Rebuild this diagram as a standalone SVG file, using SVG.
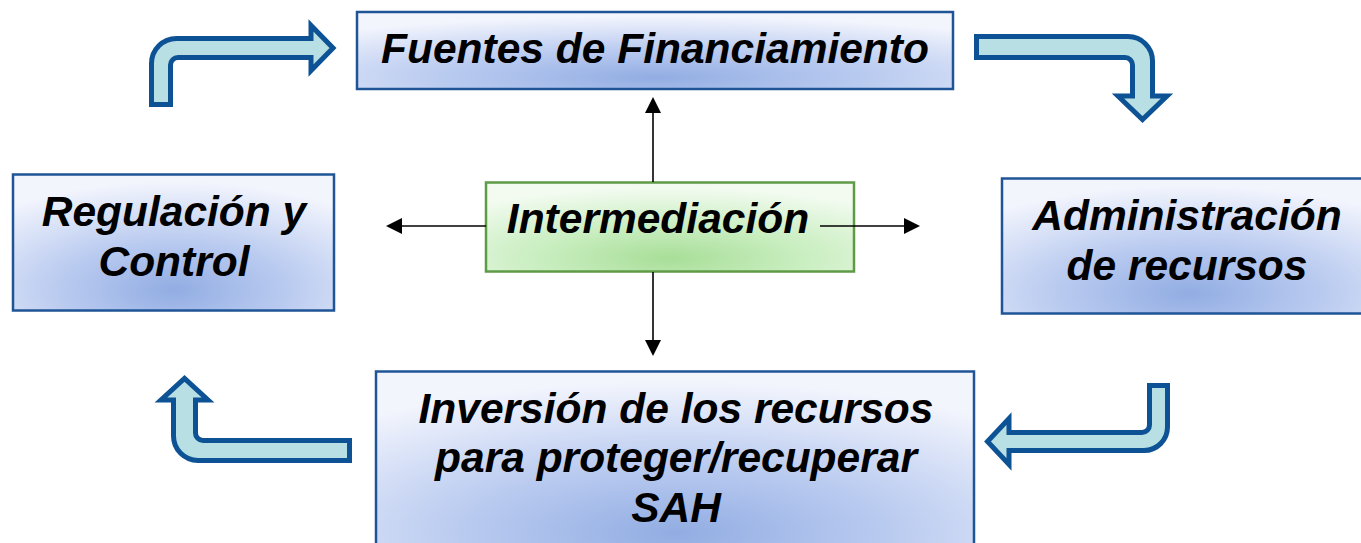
<svg xmlns="http://www.w3.org/2000/svg" width="1361" height="543" viewBox="0 0 1361 543">
<style>
.box{stroke:#1F5597;stroke-width:2.5;fill:url(#gBlue)}
.gbox{stroke:#5F9A46;stroke-width:2.5;fill:url(#gGreen)}
.lbl{font-family:"Liberation Sans",Arial,sans-serif;font-weight:bold;font-style:italic;font-size:42.5px;fill:#000;text-anchor:middle}
.bent{fill:#B8DFE3;stroke:#0D5295;stroke-width:5;stroke-linejoin:miter}
.thin{stroke:#000;stroke-width:1.6;fill:none;marker-end:url(#ah)}
</style>
<defs>
<radialGradient id="gBlue" cx="0.5" cy="0.85" r="0.8" fx="0.5" fy="0.85">
<stop offset="0" stop-color="#92ADE3"/>
<stop offset="0.45" stop-color="#BACBF0"/>
<stop offset="1" stop-color="#F3F5FD"/>
</radialGradient>
<radialGradient id="gGreen" cx="0.5" cy="0.85" r="0.8" fx="0.5" fy="0.85">
<stop offset="0" stop-color="#A8DE98"/>
<stop offset="0.45" stop-color="#C9EEC0"/>
<stop offset="1" stop-color="#F3FBF1"/>
</radialGradient>
<marker id="ah" viewBox="0 0 16 16" refX="0" refY="8" markerWidth="16" markerHeight="16" markerUnits="userSpaceOnUse" orient="auto">
<path d="M0,0 L16,8 L0,16 Z" fill="#000"/>
</marker>
</defs>
<rect width="1361" height="543" fill="#fff"/>
<g id="connectors">
<path class="bent" d="M151.5,104.5 L151.5,63.5 A25,25 0 0 1 176.5,38.5 L311,38.5 L311,25.5 L333,48 L311,70.5 L311,57.5 L178,57.5 A7.5,7.5 0 0 0 170.5,65 L170.5,104.5 Z"/>
<path class="bent" d="M976.5,36.5 L1128,36.5 A24.5,24.5 0 0 1 1152.5,61 L1152.5,96 L1167,96 L1142.5,119.5 L1118,96 L1132.5,96 L1132.5,65 A7.5,7.5 0 0 0 1125,57.5 L976.5,57.5 Z"/>
<path class="bent" d="M1167.5,385.5 L1167.5,427 A23.5,23.5 0 0 1 1144,450.5 L1009,450.5 L1009,464.5 L987.5,441.5 L1009,418.5 L1009,432.5 L1142,432.5 A7.5,7.5 0 0 0 1149.5,425 L1149.5,385.5 Z"/>
<path class="bent" d="M349.5,440.5 L203,440.5 A7.5,7.5 0 0 1 195.5,433 L195.5,400 L208,400 L184.5,378.5 L161,400 L173.5,400 L173.5,436 A24.5,24.5 0 0 0 198,460.5 L349.5,460.5 Z"/>
</g>
<g id="node-fuentes">
<rect class="box" x="357" y="12" width="596" height="77"/>
<text class="lbl" x="655" y="63">Fuentes de Financiamiento</text>
</g>
<g id="node-regulacion">
<rect class="box" x="13" y="174.5" width="321" height="136"/>
<text class="lbl" x="174" y="226">Regulación y</text>
<text class="lbl" x="174" y="276">Control</text>
</g>
<g id="node-administracion">
<rect class="box" x="1002" y="178.5" width="375" height="135"/>
<text class="lbl" x="1187" y="230">Administración</text>
<text class="lbl" x="1187" y="280">de recursos</text>
</g>
<g id="node-inversion">
<rect class="box" x="376" y="371.5" width="598" height="190"/>
<text class="lbl" x="676" y="423">Inversión de los recursos</text>
<text class="lbl" x="676" y="472">para proteger/recuperar</text>
<text class="lbl" x="676" y="522">SAH</text>
</g>
<g id="node-intermediacion">
<rect class="gbox" x="486" y="182.5" width="368" height="89"/>
<text class="lbl" x="658" y="233">Intermediación</text>
</g>
<g id="center-arrows">
<line class="thin" x1="653" y1="182" x2="653" y2="113"/>
<line class="thin" x1="653" y1="272" x2="653" y2="340"/>
<line class="thin" x1="486" y1="226" x2="402" y2="226"/>
<line class="thin" x1="820" y1="226" x2="904" y2="226"/>
</g>
</svg>
